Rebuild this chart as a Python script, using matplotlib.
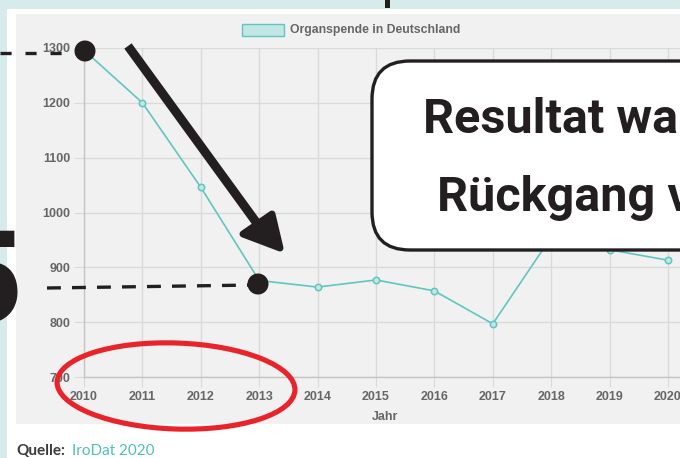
import matplotlib.pyplot as plt
from matplotlib.patches import Rectangle, Ellipse, FancyBboxPatch, Polygon
from matplotlib.lines import Line2D
from matplotlib.transforms import Affine2D

plt.rcParams['lines.scale_dashes'] = False

years = [2010, 2011, 2012, 2013, 2014, 2015, 2016, 2017, 2018, 2019, 2020]
donors = [1296, 1200, 1046, 876, 864, 877, 857, 797, 955, 932, 913]
y_ticks = [700, 800, 900, 1000, 1100, 1200, 1300]
series_label = 'Organspende in Deutschland'
x_title = 'Jahr'
box_lines = ['Resultat war', 'Rückgang von']

W, H = 680, 458
teal = '#5fc6c0'
teal_fill = '#c2e6e3'
ink = '#231f20'
grid_c = '#dadada'
label_c = '#666666'

fig = plt.figure(figsize=(W / 100, H / 100), dpi=100)
fig.patch.set_facecolor('#d6ecea')
# pixel coords with origin top-left
T = Affine2D().scale(1 / W, -1 / H).translate(0, 1) + fig.transFigure

fig.add_artist(Rectangle((7, 9), W, H, transform=T, facecolor='white', edgecolor='none', zorder=-5))
fig.add_artist(Rectangle((16, 14), W, 410, transform=T, facecolor='#f1f1f1', edgecolor='none', zorder=-4))
fig.add_artist(Rectangle((385, -2), 5, 10, transform=T, facecolor=ink, edgecolor='none', zorder=-3))

ax = fig.add_axes([84 / W, 1 - 377 / H, (W - 84) / W, (377 - 48) / H])
ax.set_facecolor('none')
ax.plot(years, donors, color=teal, lw=1.2, marker='o', ms=4.6,
        mfc=teal_fill, mec=teal, mew=1.1, zorder=3)
ax.set_xlim(2010, 2010 + (W - 84) / 58.4)
ax.set_ylim(700, 1300)
ax.set_xticks(years)
ax.set_yticks(y_ticks)
ax.grid(True, color=grid_c, lw=1)
for s in ['top', 'right']:
    ax.spines[s].set_visible(False)
for s in ['left', 'bottom']:
    ax.spines[s].set_color('#c4c4c4')
    ax.spines[s].set_linewidth(1)
ax.tick_params(length=7, color=grid_c, pad=3, labelsize=9, labelcolor=label_c)
for lab in ax.get_xticklabels() + ax.get_yticklabels():
    lab.set_fontfamily('Liberation Sans')
    lab.set_fontweight('bold')

fig.text(385 / W, 1 - 417 / H, x_title, ha='center', va='center', fontsize=9,
         fontweight='bold', color=label_c, family='Liberation Sans')

# legend
fig.add_artist(Rectangle((242, 24), 42, 12, transform=T, facecolor=teal_fill, edgecolor=teal, lw=1))
fig.text(290 / W, 1 - 30 / H, series_label, ha='left', va='center', fontsize=8.8,
         fontweight='bold', color=label_c, family='Liberation Sans')

# source
fig.text(16 / W, 1 - 455 / H, 'Quelle:', ha='left', va='baseline', fontsize=11,
         fontweight='bold', color='#3a3a3a', family='Lato')
fig.text(72 / W, 1 - 455 / H, 'IroDat 2020', ha='left', va='baseline', fontsize=11,
         color='#4fbfb7', family='Lato')

# dashed guides
fig.add_artist(Line2D([0, 80], [53, 53], transform=T, color=ink, lw=2.4,
                      dashes=(8, 10), dash_capstyle='butt', zorder=4))
fig.add_artist(Line2D([47, 255], [288, 285], transform=T, color=ink, lw=2.4,
                      dashes=(10, 8), dash_capstyle='butt', zorder=4))
# dots
for cx, cy in [(85, 51), (258, 284)]:
    fig.add_artist(Ellipse((cx, cy), 21, 21, transform=T, facecolor=ink, edgecolor='none', zorder=5))

# arrow
fig.add_artist(Line2D([128, 256], [46, 222], transform=T, color=ink, lw=6.5,
                      solid_capstyle='butt', zorder=5))
fig.add_artist(Polygon([(243, 234), (272, 214), (280, 248)], closed=True, transform=T,
                       facecolor=ink, edgecolor=ink, lw=5, joinstyle='round', zorder=5))

# callout box
fig.add_artist(FancyBboxPatch((372, 61), 400, 189, boxstyle='round,pad=0,rounding_size=38',
                              transform=T, facecolor='white', edgecolor=ink, lw=2.4, zorder=6))
fig.text(423 / W, 1 - 133 / H, box_lines[0], ha='left', va='baseline', fontsize=35,
         fontweight='bold', color=ink, family='Roboto', zorder=7)
fig.text(437 / W, 1 - 211 / H, box_lines[1], ha='left', va='baseline', fontsize=35,
         fontweight='bold', color=ink, family='Roboto', zorder=7)

# red ellipse
fig.add_artist(Ellipse((176, 386), 238, 86, angle=2, transform=T, facecolor='none',
                       edgecolor='#e8232a', lw=3.7, zorder=6))

# large cut digit on the left
fig.text(22 / W, 1 - 322 / H, '5', ha='right', va='baseline', fontsize=92,
         fontweight='black', color=ink, family='Roboto', zorder=6)

fig.savefig('out.png', dpi=100)
